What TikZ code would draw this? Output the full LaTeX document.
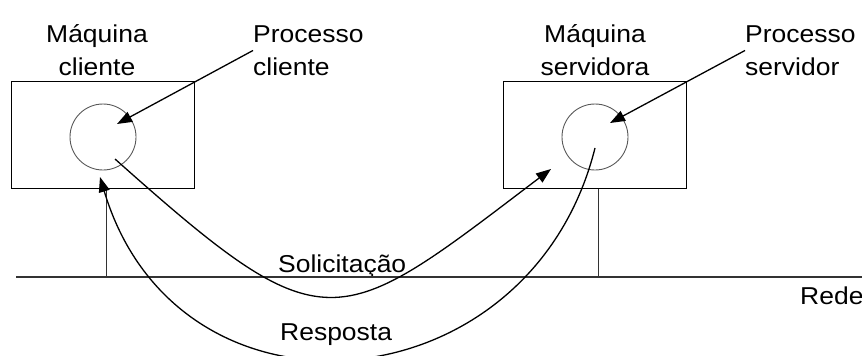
\documentclass[tikz,border=0pt]{standalone}
\usepackage{fontspec}
\setmainfont{Liberation Sans}[FakeStretch=1.085]
\usetikzlibrary{arrows.meta}
\tikzset{
	maquina/.style={draw,line width=1pt,minimum width=183pt,minimum height=107pt,inner sep=0pt},
	processo/.style={draw,black!65,line width=0.9pt,circle,minimum size=66pt,inner sep=0pt},
	rotulo/.style={align=left,inner sep=0pt,font=\fontsize{24.4}{32.5}\selectfont},
	seta/.style={line width=1.3pt,-{Triangle[length=15pt,width=11pt]}}
}
\begin{document}
\begin{tikzpicture}[x=1pt,y=-1pt]
			\useasboundingbox (0,0) rectangle (862,356);
			\node[maquina] (mcli) at (102.5,134.5) {};
			\node[maquina] (mserv) at (595,134.5) {};
			\node[processo] (pcli) at (103,137) {};
			\node[processo] (pserv) at (595,137) {};
			\node[rotulo,align=center,anchor=base] (tmcli) at (97,75) {Máquina\\cliente};
			\node[rotulo,align=center,anchor=base] (tmserv) at (595,75) {Máquina\\servidora};
			\node[rotulo,anchor=base west] (tpcli) at (253,75) {Processo\\cliente};
			\node[rotulo,anchor=base west] (tpserv) at (745,75) {Processo\\servidor};
			\node[rotulo,anchor=base west] (tsol) at (278,272) {Solicitação};
			\node[rotulo,anchor=base west] (tresp) at (280,340) {Resposta};
			\node[rotulo,anchor=base west] (trede) at (800,304) {Rede};
			% rede
			\coordinate (redeesq) at (16,277);
			\coordinate (rededir) at (862,277);
			\coordinate (lcli) at (106,277);
			\coordinate (lserv) at (598,277);
			\draw[line width=1.2pt,black!80] (redeesq) -- (rededir);
			\draw[line width=0.9pt,black!80] (lcli |- mcli.south) -- (lcli);
			\draw[line width=0.9pt,black!80] (lserv |- mserv.south) -- (lserv);
			% setas
			\coordinate (acli) at (117,124);
			\coordinate (aserv) at (610,123);
			\coordinate (scli) at (115,159);
			\coordinate (sserv) at (551,169);
			\coordinate (rserv) at (595,148);
			\coordinate (rcli) at (100,177);
			\draw[seta] (tpcli.west) -- (acli);
			\draw[seta] (tpserv.west) -- (aserv);
			\draw[seta] (scli) .. controls (327,348) and (335,333) .. (sserv);
			\draw[seta] (rserv) .. controls (530,408) and (178,438) .. (rcli);
		\end{tikzpicture}
\end{document}
